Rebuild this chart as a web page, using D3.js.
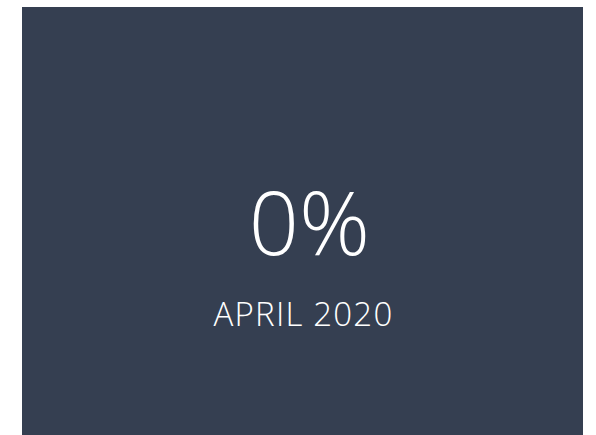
<!DOCTYPE html>
<html>
<head>
<meta charset="utf-8">
<script src="https://cdn.jsdelivr.net/npm/d3@7"></script>
<style>
  body { margin: 0; background: #fff; }
  text { font-family: 'Open Sans', 'Noto Sans', sans-serif; font-weight: 300; fill: #fff; }
</style>
</head>
<body>
<div id="chart"></div>
<script>
// KPI values
const kpiValues = [0];
const kpiLabels = ['APRIL 2020'];

//Chart dimensions
const width = 596;
const height = 435;
const card = { left: 22, top: 7, right: 583, bottom: 435 };

const fmt = d3.format('.0%');

const svg = d3.select('#chart').append('svg')
  .attr('width', width)
  .attr('height', height);

svg.append('rect')
  .attr('x', card.left)
  .attr('y', card.top)
  .attr('width', card.right - card.left)
  .attr('height', card.bottom - card.top)
  .attr('fill', '#353f51');

const cx = (card.left + card.right) / 2;

const g = svg.selectAll('g.kpi')
  .data(kpiValues)
  .enter().append('g')
  .attr('class', 'kpi');

g.append('text')
  .attr('x', cx + 7)
  .attr('y', 255)
  .attr('text-anchor', 'middle')
  .style('font-size', '88px')
  .text(d => fmt(d));

g.append('text')
  .attr('x', cx + 1)
  .attr('y', 326)
  .attr('text-anchor', 'middle')
  .style('font-size', '33px')
  .style('letter-spacing', '1.2px')
  .text((d, i) => kpiLabels[i]);
</script>
</body>
</html>
